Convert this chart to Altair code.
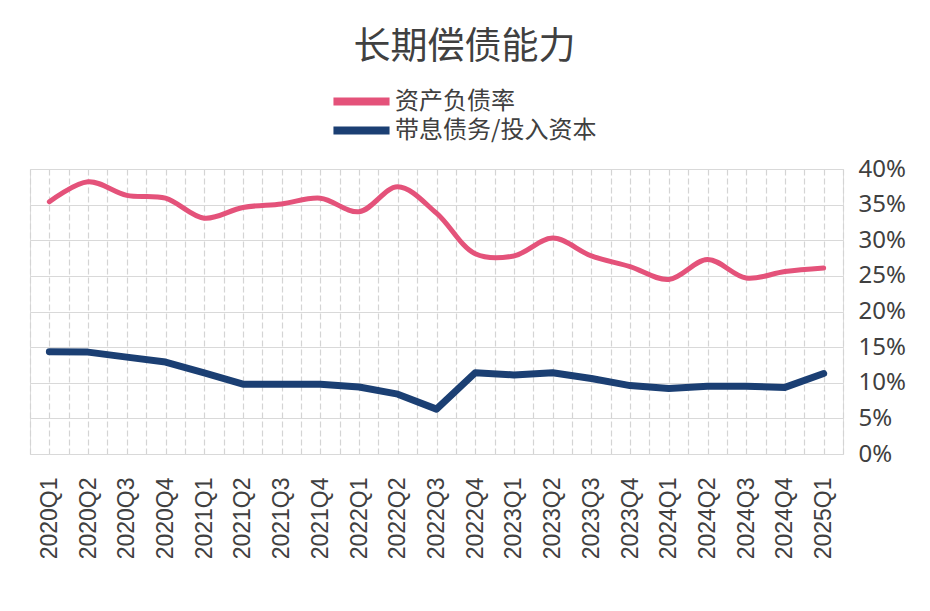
import json
import altair as alt
import pandas as pd

quarters = ["2020Q1", "2020Q2", "2020Q3", "2020Q4",
            "2021Q1", "2021Q2", "2021Q3", "2021Q4",
            "2022Q1", "2022Q2", "2022Q3", "2022Q4",
            "2023Q1", "2023Q2", "2023Q3", "2023Q4",
            "2024Q1", "2024Q2", "2024Q3", "2024Q4",
            "2025Q1"]

series_names = ["资产负债率", "带息债务/投入资本"]

debt_ratio = [0.354, 0.382, 0.363, 0.359, 0.331, 0.346, 0.351, 0.359, 0.340, 0.375,
              0.338, 0.281, 0.278, 0.303, 0.278, 0.263, 0.245, 0.273, 0.247, 0.256,
              0.261]

interest_debt = [0.1435, 0.143, 0.136, 0.129, 0.114, 0.098, 0.098, 0.098, 0.094, 0.084,
                 0.063, 0.114, 0.111, 0.114, 0.106, 0.096, 0.092, 0.095, 0.095, 0.0935,
                 0.113]

colors = ["#E4527A", "#1B3F73"]
y_ticks = [0, 0.05, 0.10, 0.15, 0.20, 0.25, 0.30, 0.35, 0.40]

rows = []
for i, q in enumerate(quarters):
    rows.append({"i": i, "q": q, "series": series_names[0], "v": debt_ratio[i]})
    rows.append({"i": i, "q": q, "series": series_names[1], "v": interest_debt[i]})
df = pd.DataFrame(rows)

n = len(quarters)
x_grid = [k / 2 for k in range(-1, 2 * n)]
label_expr = "datum.value % 1 === 0 ? " + json.dumps(quarters, ensure_ascii=False) + "[datum.value] : ''"

x_enc = alt.X(
    "i:Q",
    scale=alt.Scale(domain=[-0.5, n - 0.5], nice=False, zero=False),
    axis=alt.Axis(
        values=x_grid,
        labelExpr=label_expr,
        labelAngle=270,
        labelAlign="right",
        labelBaseline="middle",
        labelPadding=23,
        labelFontSize=23,
        labelFont="Liberation Sans",
        labelColor="#404040",
        labelOverlap=False,
        labelFlush=False,
        labelBound=False,
        ticks=False,
        domain=True,
        domainColor="#d9d9d9",
        grid=True,
        gridColor="#d4d4d4",
        gridDash=[6, 3],
        gridWidth=1.2,
        title=None,
    ),
)

y_enc = alt.Y(
    "v:Q",
    scale=alt.Scale(domain=[0, 0.4], nice=False),
    axis=alt.Axis(
        orient="right",
        values=y_ticks,
        format=".0%",
        labelFontSize=24,
        labelFont="Noto Sans",
        labelColor="#404040",
        labelPadding=15,
        ticks=False,
        domain=False,
        grid=True,
        gridColor="#d9d9d9",
        gridWidth=1.2,
        title=None,
    ),
)

color_enc = alt.Color(
    "series:N",
    scale=alt.Scale(domain=series_names, range=colors),
    sort=series_names,
    legend=alt.Legend(
        title=None,
        orient="none",
        legendX=319,
        legendY=-80,
        direction="vertical",
        symbolType="M-3.3,0H3.3",
        symbolSize=289,
        symbolStrokeWidth=8,
        symbolFillColor="transparent",
        labelFontSize=24,
        labelFont="Noto Sans CJK SC",
        labelColor="#404040",
        labelOffset=21,
        labelLimit=400,
        rowPadding=-7,
        padding=0,
    ),
)

pink = alt.Chart(df).transform_filter(
    alt.datum.series == series_names[0]
).mark_line(
    interpolate="catmull-rom", strokeWidth=5, strokeCap="round", strokeJoin="round"
).encode(x=x_enc, y=y_enc, color=color_enc)

blue = alt.Chart(df).transform_filter(
    alt.datum.series == series_names[1]
).mark_line(
    strokeWidth=7, strokeCap="round", strokeJoin="round"
).encode(x=x_enc, y=y_enc, color=color_enc)

chart = alt.layer(blue, pink).properties(
    width=813,
    height=285,
    padding={"left": 22, "top": 161, "right": 79, "bottom": 150},
    autosize=alt.AutoSizeParams(type="none"),
    title=alt.TitleParams(
        "长期偿债能力",
        fontSize=37,
        font="Noto Sans CJK SC",
        fontWeight="normal",
        color="#404040",
        anchor="middle",
        dx=28,
        offset=22,
    ),
).configure_view(
    stroke="#d9d9d9", strokeWidth=1.2
).configure(background="white")

chart.save("out.html", embed_options={"renderer": "svg", "actions": False})
